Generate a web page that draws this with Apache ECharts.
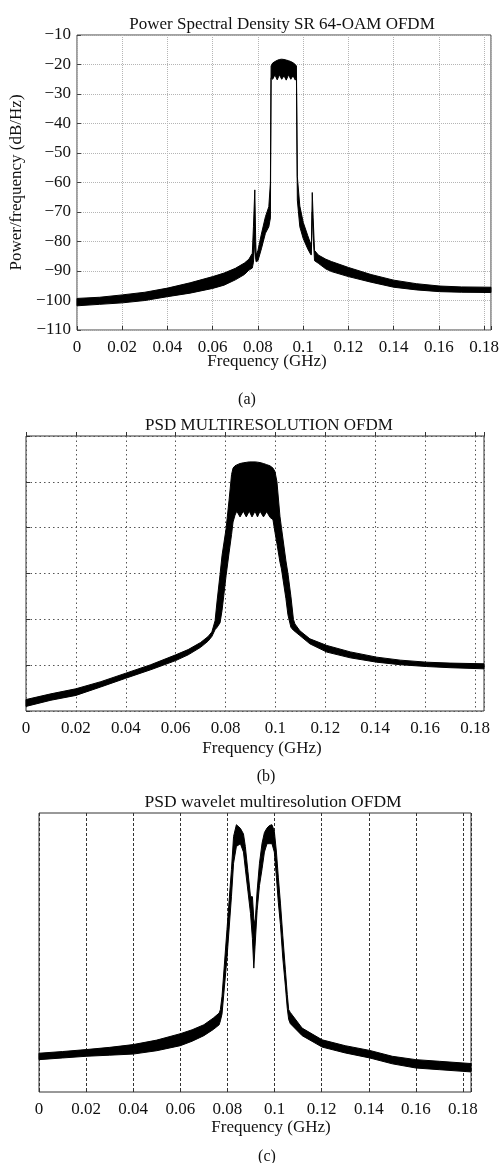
<!DOCTYPE html>
<html>
<head>
<meta charset="utf-8">
<script src="https://cdn.jsdelivr.net/npm/echarts@6/dist/echarts.min.js"></script>
<style>
  html, body { margin: 0; padding: 0; background: #fff; }
  #chart { width: 502px; height: 1163px; }
</style>
</head>
<body>
<div id="chart"></div>
<script>
// (a) Power Spectral Density SR 64-OAM OFDM — band drawn between lower and upper envelope
const freqA = [0, 0.01, 0.02, 0.03, 0.04, 0.05, 0.06, 0.065, 0.07, 0.074, 0.076, 0.0775, 0.078, 0.0786, 0.079, 0.0792,
  0.08, 0.0815, 0.0833, 0.0848, 0.0855, 0.0858, 0.0865, 0.0875, 0.0885, 0.0895, 0.0905, 0.0915, 0.0925, 0.0935,
  0.0945, 0.0955, 0.0965, 0.097, 0.0974, 0.0985, 0.1, 0.102, 0.1034, 0.1036, 0.104, 0.1044, 0.105, 0.1067,
  0.11, 0.1125, 0.12, 0.13, 0.14, 0.15, 0.1603, 0.17, 0.183]
const lowerA = [-101.8, -101.3, -100.8, -100, -98.7, -97.5, -95.9, -94.8, -93, -91.2, -89.7, -89, -87, -80, -86, -86.9,
  -86.5, -82.5, -77.2, -75, -72, -24.5, -25, -23.5, -25.2, -23.5, -25, -23.8, -25.3, -23.5,
  -25, -23.8, -25.3, -24, -66, -75, -79, -82.5, -84.5, -84.5, -70, -78, -86.5, -87.4,
  -89.3, -90.2, -91.9, -93.8, -95.5, -96.4, -97, -97.2, -97.3]
const upperA = [-99.3, -98.9, -98.1, -97.2, -95.8, -94, -91.9, -90.7, -89.1, -87.3, -86, -84, -75, -62.5, -80, -84.6,
  -83, -77.5, -71.6, -68.2, -60, -20.5, -19.5, -19, -18.6, -18.3, -18.2, -18.3, -18.5, -18.7,
  -19, -19.4, -20, -20.5, -58, -68, -73.5, -78, -81, -82, -63.4, -72, -83, -84.6,
  -86, -86.8, -88.8, -91.2, -93.1, -94.3, -95.1, -95.4, -95.5]
const yTicksA = [-110, -10, 10]

// (b) PSD MULTIRESOLUTION OFDM
const freqB = [0, 0.01, 0.02, 0.03, 0.04, 0.05, 0.06, 0.065, 0.07, 0.073, 0.0745, 0.0758, 0.0766, 0.0778, 0.0786,
  0.0802, 0.0814, 0.0824, 0.083, 0.0838, 0.0845, 0.0858, 0.0871, 0.0883, 0.0895, 0.0906, 0.0918, 0.0928, 0.0938,
  0.0952, 0.0965, 0.0978, 0.099, 0.0998, 0.1006, 0.1018, 0.1024, 0.1042, 0.105, 0.1062, 0.1072, 0.1078, 0.1098,
  0.1138, 0.1206, 0.13, 0.1406, 0.15, 0.1606, 0.17, 0.1836]
const lowerB = [-118, -115.3, -113.2, -109.5, -105.7, -102, -98, -95.5, -92.2, -89.5, -87.5, -84.5, -83.5, -81.5, -76,
  -61, -51, -43, -37.5, -34.5, -32.8, -35.3, -32.8, -35.3, -32.8, -35.3, -32.8, -35.3, -32.8,
  -35.3, -33, -35.5, -36.5, -42, -47, -55, -58, -71, -78, -83.5, -84.8, -85.3, -87.1,
  -90.7, -94.3, -96.8, -98.7, -99.8, -100.6, -101.1, -101.6]
const upperB = [-115, -112.5, -110.3, -107.2, -103.5, -99.8, -95.5, -93.2, -90.1, -87.5, -85.5, -80.6, -72, -60.3, -52,
  -40.5, -28, -16.8, -14, -13, -12.6, -12, -11.7, -11.5, -11.3, -11.3, -11.3, -11.4, -11.6,
  -12, -12.5, -13, -14, -15.5, -20, -35, -40, -54.5, -60, -70, -80, -82, -85,
  -88.5, -91.4, -94.2, -96.5, -97.8, -98.7, -99.1, -99.4]

// (c) PSD wavelet multiresolution OFDM
const freqC = [0, 0.01, 0.02, 0.03, 0.04, 0.05, 0.06, 0.065, 0.07, 0.074, 0.0765, 0.077, 0.0777, 0.0798, 0.0817,
  0.0826, 0.0838, 0.0855, 0.0868, 0.0876, 0.0887, 0.0898, 0.0906, 0.0912, 0.0917, 0.0926, 0.0936, 0.0947, 0.0957,
  0.0968, 0.0978, 0.0989, 0.0999, 0.1008, 0.1016, 0.1025, 0.1035, 0.1046, 0.1054, 0.106, 0.1067,
  0.1117, 0.1202, 0.13, 0.1404, 0.15, 0.16, 0.17, 0.18, 0.1834]
const lowerC = [-98.4, -97.8, -97.2, -96.8, -96.4, -95.2, -93.4, -91.8, -89.8, -87.6, -85.9, -84.5, -82, -62, -40,
  -28, -22, -21, -24, -30, -38, -46, -55, -65.6, -58, -45, -36, -30, -24,
  -21, -21, -21, -24, -33, -42, -50, -62, -72, -80, -84, -85.5,
  -89.8, -93.9, -96, -97.8, -99.9, -101.4, -102, -102.6, -102.8]
const upperC = [-96.1, -95.5, -94.8, -94, -93, -91.4, -89.1, -87.7, -85.9, -83.5, -81.7, -80.5, -75.7, -51.8, -30.3,
  -18.4, -14.2, -15.5, -17.5, -22, -31, -40, -40, -48, -50, -38, -28, -20.8, -17,
  -15.4, -14.5, -14.2, -16.5, -24, -33, -42.3, -54, -66.2, -75, -80.5, -81.5,
  -87.1, -91.3, -93.4, -95.1, -97.2, -98.4, -99, -99.6, -99.8]

const FONT = 'Liberation Serif'
const TXT = '#111'

// filled band between the two envelopes, one polygon per panel
function bandSeries(freq, lower, upper, idx) {
  return {
    type: 'custom',
    xAxisIndex: idx,
    yAxisIndex: idx,
    silent: true,
    data: freq.map((f, i) => [f, lower[i], upper[i]]),
    encode: { x: 0, y: [1, 2] },
    renderItem(params, api) {
      if (params.dataIndex !== 0) return null
      const pts = []
      for (let i = 0; i < freq.length; i++) pts.push(api.coord([freq[i], upper[i]]))
      for (let i = freq.length - 1; i >= 0; i--) pts.push(api.coord([freq[i], lower[i]]))
      return {
        type: 'polygon',
        shape: { points: pts },
        style: { fill: '#000', stroke: '#000', lineWidth: 1 }
      }
    }
  }
}

function freqLabel(v) {
  const k = Math.round(v / 0.02)
  if (Math.abs(v - k * 0.02) > 1e-6) return ''
  return String(+(k * 0.02).toFixed(2))
}

function xAxisOf(idx, max, split) {
  return {
    type: 'value',
    gridIndex: idx,
    min: 0,
    max: max,
    interval: 0.02,
    axisLine: { show: false },
    axisTick: { show: true, inside: true, length: 4, lineStyle: { color: '#333' } },
    axisLabel: { formatter: freqLabel, fontFamily: FONT, fontSize: 17, color: TXT, margin: 9 },
    splitLine: split
  }
}

const chart = echarts.init(document.getElementById('chart'))

chart.setOption({
  animation: false,
  backgroundColor: '#fff',
  grid: [
    { left: 73, top: 35, width: 418, height: 295, show: true, borderColor: '#444', borderWidth: 1 },
    { left: 26, top: 436, width: 458, height: 275, show: true, borderColor: '#333', borderWidth: 1 },
    { left: 39, top: 813, width: 432, height: 279, show: true, borderColor: '#333', borderWidth: 1 }
  ],
  xAxis: [
    xAxisOf(0, 0.183, { show: true, lineStyle: { color: '#b5b5b5', type: [1, 1], width: 1 } }),
    xAxisOf(1, 0.1836, { show: true, lineStyle: { color: '#555', type: [1.5, 3], width: 1 } }),
    xAxisOf(2, 0.1834, { show: true, lineStyle: { color: '#333', type: [3, 2], width: 1 } })
  ],
  yAxis: [
    {
      type: 'value', gridIndex: 0, min: yTicksA[0], max: yTicksA[1], interval: yTicksA[2],
      name: 'Power/frequency (dB/Hz)', nameLocation: 'middle', nameGap: 46,
      nameTextStyle: { fontFamily: FONT, fontSize: 17, color: TXT },
      axisLine: { show: false },
      axisTick: { show: true, inside: true, length: 4, lineStyle: { color: '#444' } },
      axisLabel: { fontFamily: FONT, fontSize: 17, color: TXT, margin: 6, formatter: v => String(v).replace('-', '\u2212') },
      splitLine: { show: true, lineStyle: { color: '#b5b5b5', type: [1, 1], width: 1 } }
    },
    {
      type: 'value', gridIndex: 1, min: -120, max: 0, interval: 20,
      axisLine: { show: false },
      axisTick: { show: true, inside: true, length: 4, lineStyle: { color: '#333' } },
      axisLabel: { show: false },
      splitLine: { show: true, lineStyle: { color: '#555', type: [1.5, 3], width: 1 } }
    },
    {
      type: 'value', gridIndex: 2, min: -110, max: -10,
      axisLine: { show: false },
      axisTick: { show: false },
      axisLabel: { show: false },
      splitLine: { show: false }
    }
  ],
  graphic: [
    { type: 'text', x: 282, y: 25, style: { text: 'Power Spectral Density SR 64-OAM OFDM', font: '17px ' + FONT, fill: TXT, textAlign: 'center', textVerticalAlign: 'middle' } },
    { type: 'text', x: 267, y: 362, style: { text: 'Frequency (GHz)', font: '17px ' + FONT, fill: TXT, textAlign: 'center', textVerticalAlign: 'middle' } },
    { type: 'text', x: 247, y: 400, style: { text: '(a)', font: '16px ' + FONT, fill: TXT, textAlign: 'center', textVerticalAlign: 'middle' } },
    { type: 'text', x: 269, y: 426, style: { text: 'PSD MULTIRESOLUTION OFDM', font: '17px ' + FONT, fill: TXT, textAlign: 'center', textVerticalAlign: 'middle' } },
    { type: 'text', x: 262, y: 749, style: { text: 'Frequency (GHz)', font: '17px ' + FONT, fill: TXT, textAlign: 'center', textVerticalAlign: 'middle' } },
    { type: 'text', x: 266, y: 777, style: { text: '(b)', font: '16px ' + FONT, fill: TXT, textAlign: 'center', textVerticalAlign: 'middle' } },
    { type: 'text', x: 273, y: 802, style: { text: 'PSD wavelet multiresolution OFDM', font: '17.5px ' + FONT, fill: TXT, textAlign: 'center', textVerticalAlign: 'middle' } },
    { type: 'text', x: 271, y: 1128, style: { text: 'Frequency (GHz)', font: '17px ' + FONT, fill: TXT, textAlign: 'center', textVerticalAlign: 'middle' } },
    { type: 'text', x: 267, y: 1157, style: { text: '(c)', font: '16px ' + FONT, fill: TXT, textAlign: 'center', textVerticalAlign: 'middle' } }
  ],
  series: [
    bandSeries(freqA, lowerA, upperA, 0),
    bandSeries(freqB, lowerB, upperB, 1),
    bandSeries(freqC, lowerC, upperC, 2)
  ]
})
</script>
</body>
</html>
